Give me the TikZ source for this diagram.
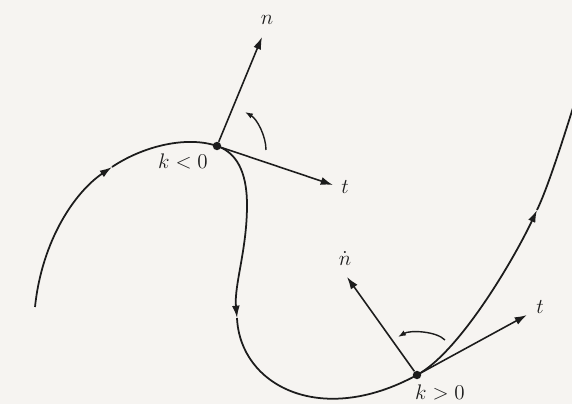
\documentclass[tikz,border=0pt]{standalone}
\usepackage{amsmath, amssymb}
\usepackage{tikz}
\usepackage{xcolor}
\usetikzlibrary{arrows.meta, positioning}
\definecolor{paper}{HTML}{F6F4F1}
\definecolor{ink}{HTML}{1C1C1C}

\begin{document}
\begin{tikzpicture}[x=0.02cm, y=-0.02cm,
    curve/.style={ink, line width=1pt},
    flow/.style={curve, -{Latex[length=7pt, width=4.4pt]}},
    vec/.style={-{Latex[length=7pt, width=4.6pt]}, ink, line width=0.9pt},
    turn/.style={-{Latex[length=4.5pt, width=3.2pt]}, ink, line width=0.8pt},
    dot/.style={circle, fill=ink, inner sep=0pt, minimum size=4.8pt},
    lab/.style={text=ink, font=\large, inner sep=1pt}
]
    \fill[paper] (0,0) rectangle (572,404);
    \useasboundingbox (0,0) rectangle (572,404);
    \clip (0,0) rectangle (572,404);

    % points on the curve
    \coordinate (S)  at (35,307);
    \coordinate (A1) at (112,167);
    \coordinate (P1) at (217,146);
    \coordinate (Q1) at (247,205);
    \coordinate (Q2) at (237,318);
    \coordinate (P2) at (417,375);
    \coordinate (A3) at (537,210);
    \coordinate (E)  at (578,92);

    % the curve, one piece per arrow
    \draw[flow] (S) .. controls (42,240) and (75,192) .. (A1);
    \draw[curve] (A1) .. controls (145,145) and (188,136) .. (P1);
    \draw[flow] (P1) .. controls (241,154) and (247,180) .. (Q1)
        .. controls (247,250) and (234,285) .. (Q2);
    \draw[curve] (Q2) .. controls (240,385) and (320,428) .. (P2);
    \draw[flow] (P2) .. controls (461,351) and (516,255) .. (A3);
    \draw[curve] (A3) .. controls (550,183) and (569,120) .. (E);

    \node[dot] (k1) at (P1) {};
    \node[dot] (k2) at (P2) {};

    % frame at k<0
    \coordinate (n1) at (262,37);
    \coordinate (t1) at (333,185);
    \draw[vec] (k1) -- (n1);
    \draw[vec] (k1) -- (t1);
    \node[lab] at (267,20) {$n$};
    \node[lab] at (345,187) {$t$};
    \node[lab] at (183,161) {$k<0$};
    \coordinate (r1a) at (266,150);
    \coordinate (r1b) at (245,112);
    \draw[turn] (r1a) .. controls (266,136) and (257,119) .. (r1b);

    % frame at k>0
    \coordinate (n2) at (347,277);
    \coordinate (t2) at (527,315);
    \draw[vec] (k2) -- (n2);
    \draw[vec] (k2) -- (t2);
    \node[lab] at (345,259) {$\dot{n}$};
    \node[lab] at (540,307) {$t$};
    \node[lab] at (440,392) {$k>0$};
    \coordinate (r2a) at (445,340);
    \coordinate (r2b) at (398,337);
    \draw[turn] (r2a) .. controls (436,331) and (410,330) .. (r2b);
\end{tikzpicture}
\end{document}
